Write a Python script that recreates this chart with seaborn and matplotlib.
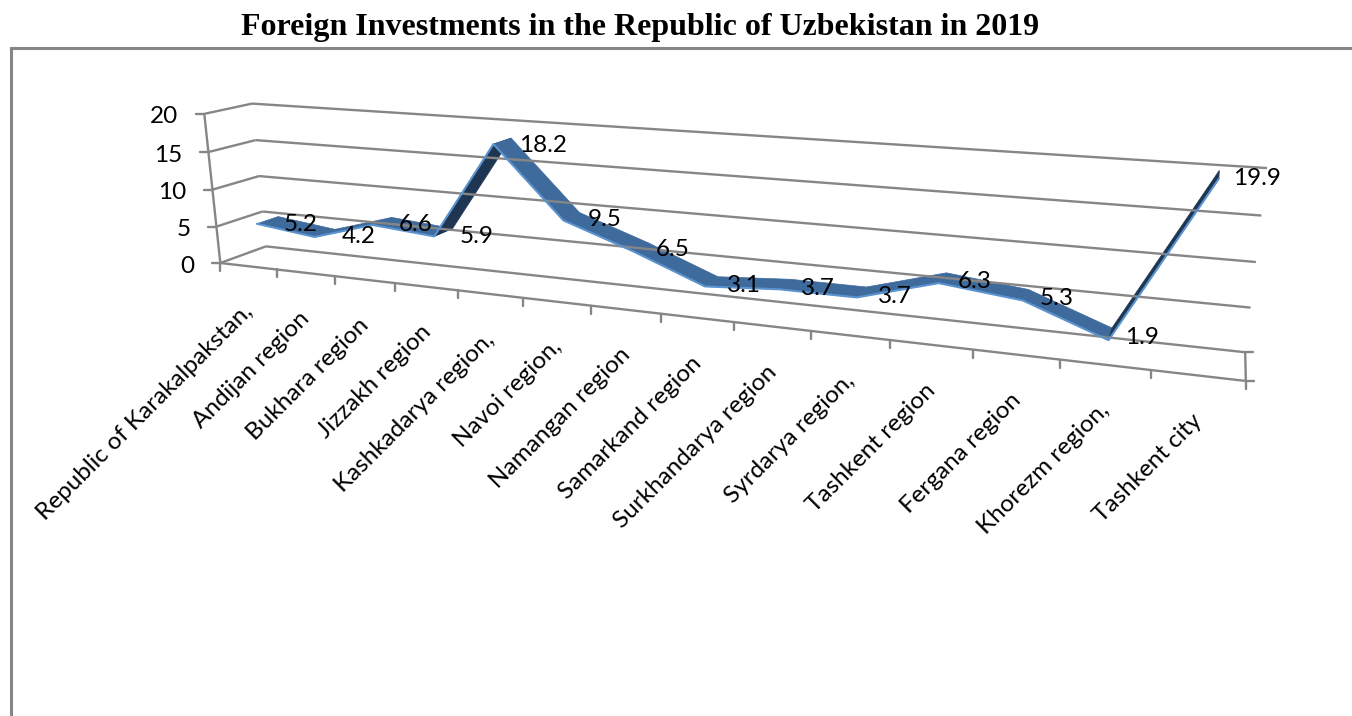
import numpy as np
import pandas as pd
import matplotlib
matplotlib.use("Agg")
import matplotlib.pyplot as plt
import seaborn as sns

# Chart content
TITLE = "Foreign Investments in the Republic of Uzbekistan in 2019"
regions = [
    "Republic of Karakalpakstan,", "Andijan region", "Bukhara region", "Jizzakh region",
    "Kashkadarya region,", "Navoi region,", "Namangan region", "Samarkand region",
    "Surkhandarya region", "Syrdarya region,", "Tashkent region", "Fergana region",
    "Khorezm region,", "Tashkent city",
]
investments = [5.2, 4.2, 6.6, 5.9, 18.2, 9.5, 6.5, 3.1, 3.7, 3.7, 6.3, 5.3, 1.9, 19.9]
value_ticks = [0, 5, 10, 15, 20]

# Camera calibration: (category, value, depth) -> screen pixel
calib_world = []
calib_screen = []
for v, fl, bl, br in zip(
    value_ticks,
    [(221, 263), (217, 227), (213, 189), (208, 152), (203, 114)],
    [(265, 246), (262, 212), (259, 176), (256, 140), (253, 104)],
    [(1245, 352), (1251, 307), (1256, 263), (1261, 216), (1267, 167)],
):
    calib_world += [(0, v, 0), (0, v, 1), (14, v, 1)]
    calib_screen += [fl, bl, br]
floor_ticks_x = [221, 276, 334, 395, 458, 523, 591, 661, 734, 811, 890, 973, 1061, 1151, 1245]
for i, x in enumerate(floor_ticks_x):
    calib_world.append((i, 0, 0))
    calib_screen.append((x, 263 + (x - 221) * 118 / 1024))


def fit_camera(world, screen):
    rows = []
    for (X, Y, Z), (u, v) in zip(world, screen):
        p = [X, Y, Z, 1]
        rows.append(p + [0, 0, 0, 0] + [-u * q for q in p])
        rows.append([0, 0, 0, 0] + p + [-v * q for q in p])
    return np.linalg.svd(np.array(rows, float))[2][-1].reshape(3, 4)


CAMERA = fit_camera(calib_world, calib_screen)


def project(c, v, z):
    c, v, z = np.broadcast_arrays(np.asarray(c, float), np.asarray(v, float), np.asarray(z, float))
    h = CAMERA @ np.stack([c, v, z, np.ones_like(c)])
    return h[0] / h[2], h[1] / h[2]


sns.set_theme(style="white", rc={"font.family": ["Lato", "DejaVu Sans"]})
fig = plt.figure(figsize=(13.52, 7.16), dpi=100)
ax = fig.add_axes([0, 0, 1, 1])
ax.set_xlim(0, 1352)
ax.set_ylim(716, 0)
ax.axis("off")

GRID = "#868686"
MID = "#3F6A9C"
DARK = "#1F3653"
LIGHT = "#5A93CF"
GRID_LW = 1.7
LABEL_SIZE = 17.5

# Outer chart frame
ax.plot([11, 11, 1352], [716, 48, 48], color=GRID, lw=2.2, solid_joinstyle="miter")
ax.text(640, 27, TITLE, family="Liberation Serif", weight="bold", fontsize=23,
        ha="center", va="center", color="black")


def seg(c0, v0, z0, c1, v1, z1, **kw):
    xs, ys = project([c0, c1], [v0, v1], [z0, z1])
    ax.plot(xs, ys, color=GRID, lw=GRID_LW, solid_capstyle="butt", **kw)


# Walls and floor
for v in value_ticks:
    seg(0, v, 0, 0, v, 1)
    seg(0, v, 1, 14, v, 1)
    x, y = project(0, v, 0)
    ax.plot([x - 8, x], [y, y], color=GRID, lw=GRID_LW)
    ax.text(x - 26, y + 3, str(v), ha="right", va="center", fontsize=LABEL_SIZE, color="black")
seg(0, 0, 0, 0, 20, 0)
seg(0, 0, 0, 14, 0, 0)
seg(14, 0, 0, 14, 0, 1)
for z in (0, 1):
    x, y = project(14, 0, z)
    ax.plot([x, x + 8], [y, y], color=GRID, lw=GRID_LW)
for c in range(15):
    x, y = project(c, 0, 0)
    ax.plot([x, x], [y, y + 8], color=GRID, lw=GRID_LW)

# Ribbon running through the middle of the depth axis
FRONT, BACK = 0.27, 0.74
cats = np.arange(len(investments)) + 0.5
vals = np.array(investments)
for i in range(len(vals) - 1):
    fx, fy = project(cats[i:i + 2], vals[i:i + 2], FRONT)
    bx, by = project(cats[i:i + 2], vals[i:i + 2], BACK)
    rising = vals[i + 1] - vals[i] > 5
    ax.fill([fx[0], fx[1], bx[1], bx[0]], [fy[0], fy[1], by[1], by[0]],
            color=DARK if rising else MID, lw=0.5)

fx, fy = project(cats, vals, FRONT)
front_edge = pd.DataFrame({"sx": fx, "sy": fy})
sns.lineplot(data=front_edge, x="sx", y="sy", sort=False, estimator=None, ax=ax,
             color=LIGHT, lw=1.5, legend=False)
ax.set_xlim(0, 1352)
ax.set_ylim(716, 0)
ax.axis("off")

# Value labels beside each point
label_offsets = [(33, 4), (34, 3.5), (33, 3.5), (33, 4.5), (41, 4), (33, 3.5), (32, 3),
                 (32, 3.5), (33, 4), (33, 4), (32, 4), (31, 3.5), (32, 3.5), (38, 4)]
mx, my = project(cats, vals, (FRONT + BACK) / 2)
for x, y, val, (dx, dy) in zip(mx, my, investments, label_offsets):
    ax.text(x + dx, y + dy, f"{val:.1f}", ha="center", va="center", fontsize=LABEL_SIZE, color="black")

# Category labels hanging off the floor's front edge
lx, ly = project(cats, 0, 0)
for x, y, name in zip(lx, ly, regions):
    ax.text(x + 1, y + 42, name, rotation=45, rotation_mode="anchor", ha="right", va="center",
            fontsize=LABEL_SIZE, color="black")

fig.savefig("out.png", dpi=100, facecolor="white")
